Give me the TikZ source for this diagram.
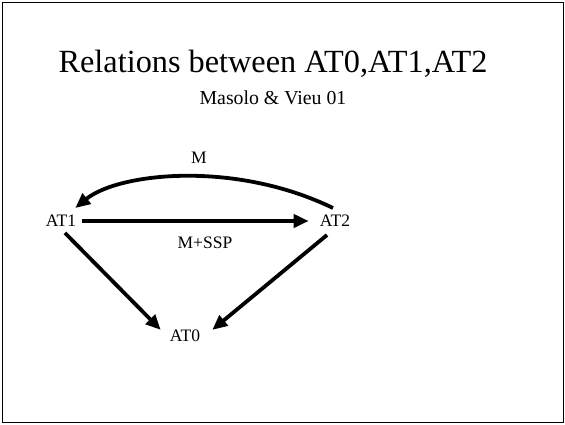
\documentclass[tikz,border=0pt]{standalone}
\usepackage{fontspec}
\setmainfont{Liberation Serif}
\usetikzlibrary{arrows.meta}
\begin{document}
\begin{tikzpicture}[x=1pt,y=-1pt,
  lbl/.style={inner sep=2pt,font=\fontsize{17.5}{20}\selectfont},
  rel/.style={line width=3.8pt,-{Triangle[length=15pt,width=13pt]}}]
  \useasboundingbox (0,0) rectangle (565,424);
  % slide frame
  \draw[line width=1.5pt] (2.5,2.5) rectangle (563.5,422.5);
  % heading
  \node (title) at (273,64) {\fontsize{32.3}{36}\selectfont Relations between AT0,AT1,AT2};
  \node (sub) at (273,98) {\fontsize{19.8}{22}\selectfont Masolo \& Vieu 01};
  % the three notions
  \node[lbl] (at1) at (61,221) {AT1};
  \node[lbl] (at2) at (335,221) {AT2};
  \node[lbl] (at0) at (185,336) {AT0};
  % edge labels
  \node[lbl] (lm) at (199,158) {M};
  \node[lbl] (lmssp) at (205,243) {M+SSP};
  % relations
  \draw[rel] ([xshift=4pt]at1.east) -- ([xshift=-9pt]at2.west);
  \draw[rel] ([xshift=-2pt,yshift=5pt]at2.north) .. controls (234,160) and (118,173) .. ([xshift=-3pt,yshift=5pt]at1.north east);
  \draw[rel] ([xshift=4pt,yshift=-4pt]at1.south) -- ([xshift=-7pt,yshift=-2pt]at0.north west);
  \draw[rel] ([xshift=-8pt,yshift=-6pt]at2.south) -- ([xshift=10pt,yshift=-2pt]at0.north east);
\end{tikzpicture}
\end{document}
